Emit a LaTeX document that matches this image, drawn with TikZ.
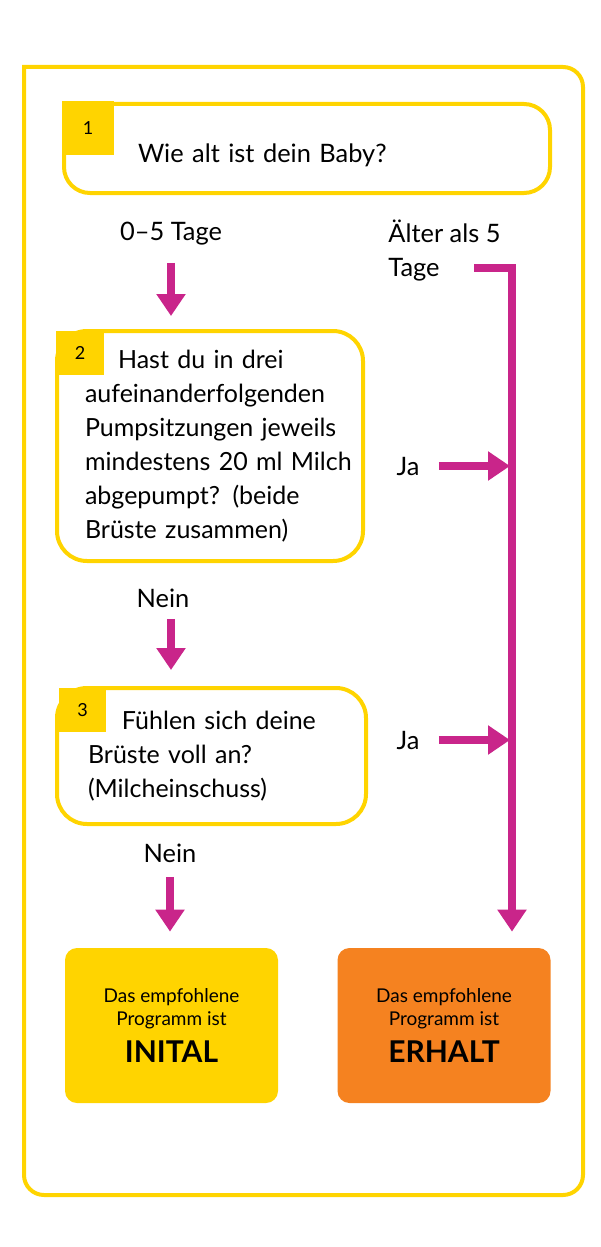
\documentclass[tikz,border=0pt]{standalone}
\usepackage{fontspec}
\setmainfont{Lato}
\usepackage{tikz}
\usetikzlibrary{positioning,calc,arrows.meta}
\usepackage{xcolor}
\definecolor{gelb}{RGB}{255,212,0}
\definecolor{orangeton}{RGB}{245,130,32}
\definecolor{magentaton}{RGB}{201,37,138}

\begin{document}
\begin{tikzpicture}[x=0.5pt,y=-0.5pt,
    frage/.style={rectangle,rounded corners=13pt,draw=gelb,line width=2pt,fill=white,align=left,inner ysep=0pt,font=\fontsize{12.5}{17}\selectfont},
    nummer/.style={rectangle,fill=gelb,inner sep=0pt,font=\fontsize{9}{11}\selectfont},
    ergebnis/.style={rectangle,rounded corners=6pt,align=center,inner sep=0pt,minimum width=106.5pt,minimum height=77.5pt,font=\fontsize{9.5}{11.5}\selectfont},
    beschrift/.style={inner sep=0pt,align=left,font=\fontsize{12.7}{17}\selectfont},
    pfeil/.style={draw=magentaton,line width=4pt,-{Triangle[width=14pt,length=11pt]}}]

\useasboundingbox (0,0) rectangle (600,1247);

% Rahmen
\draw[draw=gelb,line width=2pt,rounded corners=10pt,line cap=rect] (24,67) -- (583,67) -- (583,1195) -- (24,1195) -- (24,67);

% Fragen
\node[frage,minimum height=44.5pt,inner xsep=37pt,text width=169pt,font=\fontsize{12.7}{17}\selectfont] (f1) at (307,148.5) {\raisebox{-3.5pt}[\height][\depth]{Wie alt ist dein Baby?}};
\node[nummer,minimum width=26pt,minimum height=26.5pt] (n1) at (88,128) {1};

\node[frage,rounded corners=15pt,minimum height=115pt,inner xsep=14pt,text width=125pt] (f2) at (210,446) {\hspace*{16.5pt}\mbox{Hast du in drei}\\\mbox{aufeinanderfolgenden}\\\mbox{Pumpsitzungen jeweils}\\\mbox{mindestens 20 ml Milch}\\\mbox{abgepumpt? (beide}\\\mbox{Brüste zusammen)}};
\node[nummer,minimum width=24pt,minimum height=22pt] (n2) at (80,353) {2};

\node[frage,rounded corners=15pt,minimum height=68pt,inner xsep=15.5pt,text width=123.5pt] (f3) at (211.5,756) {\hspace*{17pt}\mbox{Fühlen sich deine}\\\mbox{Brüste voll an?}\\\mbox{(Milcheinschuss)}};
\node[nummer,minimum width=23.5pt,minimum height=22pt] (n3) at (82.5,710) {3};

% Ergebnisse
\node[ergebnis,fill=gelb] (initial) at (171.5,1025.5) {Das empfohlene\\Programm ist\\[5pt]{\fontsize{15}{19}\selectfont\bfseries INITAL}};
\node[ergebnis,fill=orangeton] (erhalt) at (444,1025.5) {Das empfohlene\\Programm ist\\[5pt]{\fontsize{15}{19}\selectfont\bfseries ERHALT}};

% Beschriftungen
\node[beschrift] (t05) at (171,234) {0–5 Tage};
\node[beschrift,anchor=west] (aelter) at (388,251) {Älter als 5\\Tage};
\node[beschrift] (nein1) at (163,598) {Nein};
\node[beschrift] (nein2) at (170,853) {Nein};
\node[beschrift] (ja1) at (408,466) {Ja};
\node[beschrift] (ja2) at (408,740) {Ja};

\coordinate (start) at (474,268);
\coordinate (ecke) at (512,268);

% Pfeile
\draw[pfeil,shorten <=8.5pt,shorten >=6.5pt] (t05.south) -- (t05.south |- f2.north);
\draw[pfeil,shorten <=5.5pt,shorten >=8pt] (nein1.south -| t05.south) -- (t05.south |- f3.north);
\draw[pfeil,shorten <=7pt,shorten >=8pt] (nein2.south) -- (nein2.south |- initial.north);
\draw[pfeil,shorten >=8pt] (start) -- (ecke) -- (ecke |- erhalt.north);
\draw[pfeil,shorten <=9.5pt,shorten >=1pt] (ja1.east) -- (ja1.east -| ecke);
\draw[pfeil,shorten <=9.5pt,shorten >=1pt] (ja2.east) -- (ja2.east -| ecke);

\end{tikzpicture}
\end{document}
